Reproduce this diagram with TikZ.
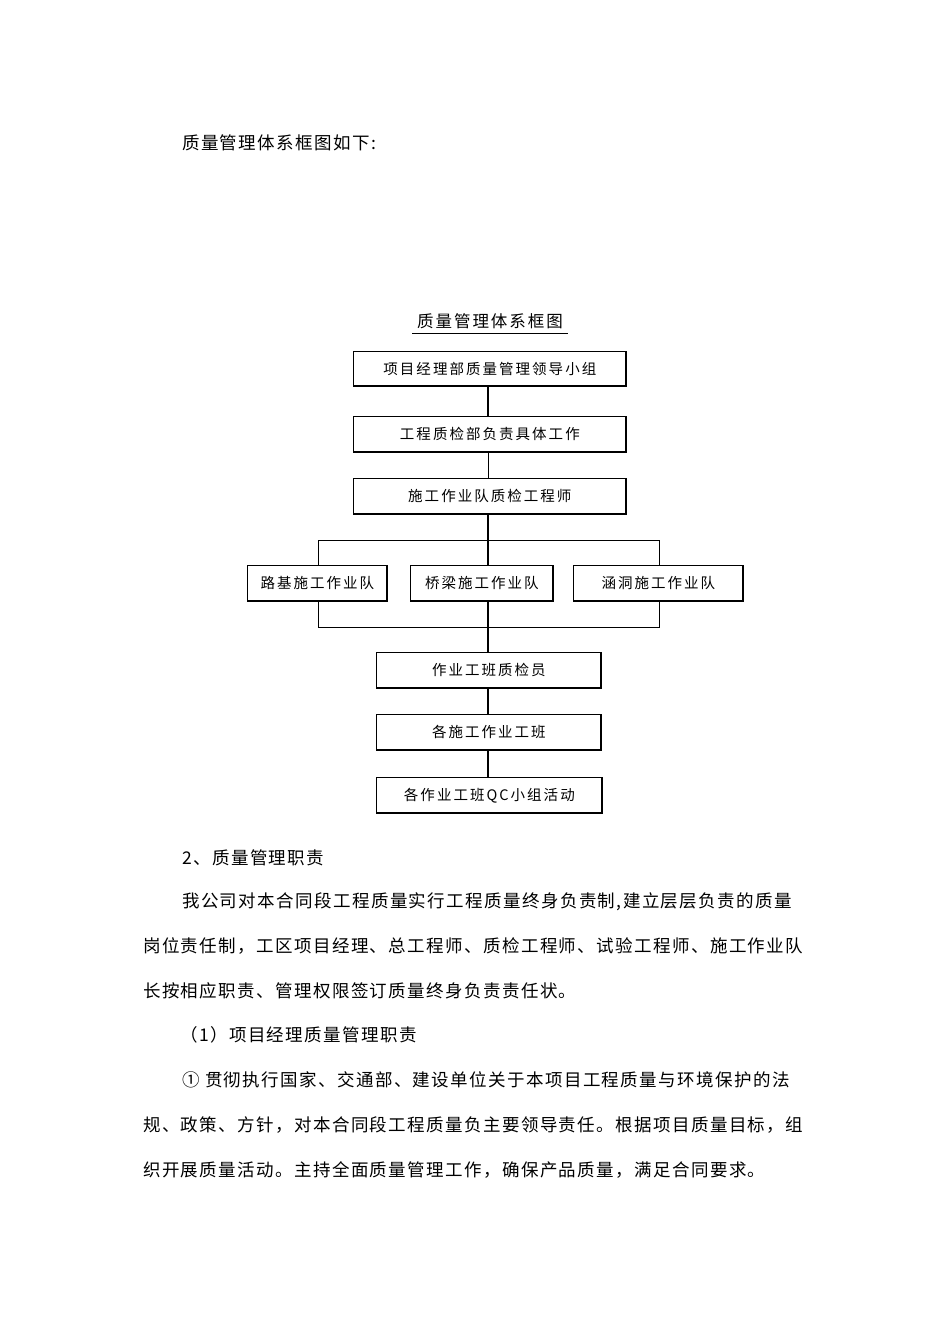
\documentclass[tikz,border=0pt]{standalone}
\usepackage{fontspec}
\setmainfont{Noto Sans CJK SC}
\begin{document}
\begin{tikzpicture}[x=1pt,y=-1pt,
  bx/.style={draw,line width=0.7pt,inner sep=0pt,anchor=north west,font=\fontsize{14.5}{16}\selectfont\addfontfeature{LetterSpace=14}},
  ln/.style={line width=0.6pt},
  th/.style={line width=2pt},
  body/.style={anchor=west,inner sep=0pt,font=\fontsize{17.5}{20}\selectfont\addfontfeature{LetterSpace=8}}]
\useasboundingbox (0,0) rectangle (950,1344);
\node[body] (h) at (182,143) {质量管理体系框图如下:};
\node[anchor=center,inner sep=0pt,font=\fontsize{16.5}{18}\selectfont\addfontfeature{LetterSpace=12}] (t) at (490,321) {质量管理体系框图};
\draw[ln] (412,333) -- (568,333);
\newcommand\bxx[6]{\node[bx,minimum width=#3-#2,minimum height=#5-#4] (#1) at (#2,#4) {#6};
 \draw[line width=1.4pt] (#2,#5) -- (#3,#5) -- (#3,#4);}
\bxx{b1}{353}{626}{351}{386}{项目经理部质量管理领导小组}
\bxx{b2}{353}{626}{416}{452}{工程质检部负责具体工作}
\bxx{b3}{353}{626}{478}{514}{施工作业队质检工程师}
\bxx{c1}{247}{387}{565}{601}{路基施工作业队}
\bxx{c2}{410}{553}{565}{601}{桥梁施工作业队}
\bxx{c3}{573}{743}{565}{601}{涵洞施工作业队}
\bxx{b4}{376}{601}{652}{688}{作业工班质检员}
\bxx{b5}{376}{601}{714}{750}{各施工作业工班}
\bxx{b6}{376}{602}{777}{813}{各作业工班QC小组活动}
\coordinate (tl) at (318,540); \coordinate (tr) at (659,540);
\coordinate (bl) at (318,627); \coordinate (br) at (659,627);
\coordinate (m) at (488,0);
\draw[th] (b1.south -| m) -- (b2.north -| m);
\draw[ln] (b2.south -| m) -- (b3.north -| m);
\draw[th] (b3.south -| m) -- (c2.north -| m);
\draw[ln] (c1.north -| tl) -- (tl) -- (tr) -- (c3.north -| tr);
\draw[ln] (c1.south -| bl) -- (bl) -- (br) -- (c3.south -| br);
\draw[th] (c2.south -| m) -- (b4.north -| m);
\draw[th] (b4.south -| m) -- (b5.north -| m);
\draw[th] (b5.south -| m) -- (b6.north -| m);
\node[body] (p0) at (182,858) {2、质量管理职责};
\node[body] (p1) at (182,902) {我公司对本合同段工程质量实行工程质量终身负责制,建立层层负责的质量};
\node[body] (p2) at (143,946) {岗位责任制，工区项目经理、总工程师、质检工程师、试验工程师、施工作业队};
\node[body] (p3) at (143,991) {长按相应职责、管理权限签订质量终身负责责任状。};
\node[body] (p4) at (180,1035) {（1）项目经理质量管理职责};
\node[body] (p5) at (182,1080) {① 贯彻执行国家、交通部、建设单位关于本项目工程质量与环境保护的法};
\node[body] (p6) at (143,1125) {规、政策、方针，对本合同段工程质量负主要领导责任。根据项目质量目标，组};
\node[body] (p7) at (143,1170) {织开展质量活动。主持全面质量管理工作，确保产品质量，满足合同要求。};
\end{tikzpicture}
\end{document}
